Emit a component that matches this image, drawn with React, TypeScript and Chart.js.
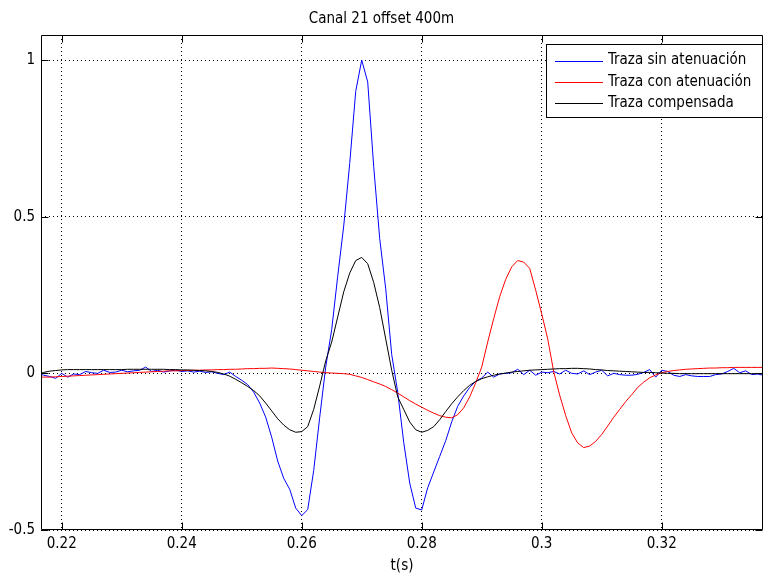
import React, { useEffect, useRef } from "react";
import { Chart, registerables } from "chart.js";

Chart.register(...registerables);

const TITLE = "Canal 21 offset 400m";
const X_LABEL = "t(s)";
const SERIES_NAMES = ["Traza sin atenuación", "Traza con atenuación", "Traza compensada"];
const SERIES_COLORS = ["#0000ff", "#ff0000", "#000000"];

const X_TICKS = [0.22, 0.24, 0.26, 0.28, 0.3, 0.32];
const Y_TICKS = [-0.5, 0, 0.5, 1];
const X_MIN = 0.21655;
const X_MAX = 0.33688;
const Y_MIN = -0.5;
const Y_MAX = 1.08;

// sample times (s)
const times = [
  0.21655, 0.217, 0.218, 0.219,
  0.22, 0.221, 0.222, 0.223, 0.224, 0.225, 0.226, 0.227, 0.228, 0.229,
  0.23, 0.231, 0.232, 0.233, 0.234, 0.235, 0.236, 0.237, 0.238, 0.239,
  0.24, 0.241, 0.242, 0.243, 0.244, 0.245, 0.246, 0.247, 0.248, 0.249,
  0.25, 0.251, 0.252, 0.253, 0.254, 0.255, 0.256, 0.257, 0.258, 0.259,
  0.26, 0.261, 0.262, 0.263, 0.264, 0.265, 0.266, 0.267, 0.268, 0.269,
  0.27, 0.271, 0.272, 0.273, 0.274, 0.275, 0.276, 0.277, 0.278, 0.279,
  0.28, 0.281, 0.282, 0.283, 0.284, 0.285, 0.286, 0.287, 0.288, 0.289,
  0.29, 0.291, 0.292, 0.293, 0.294, 0.295, 0.296, 0.297, 0.298, 0.299,
  0.3, 0.301, 0.302, 0.303, 0.304, 0.305, 0.306, 0.307, 0.308, 0.309,
  0.31, 0.311, 0.312, 0.313, 0.314, 0.315, 0.316, 0.317, 0.318, 0.319,
  0.32, 0.321, 0.322, 0.323, 0.324, 0.325, 0.326, 0.327, 0.328, 0.329,
  0.33, 0.331, 0.332, 0.333, 0.334, 0.335, 0.336,
  0.33688,
];

// Traza sin atenuación
const trazaSin = [
  -0.003, -0.006, -0.01, -0.016,
  0.0, -0.012, -0.002, -0.004, 0.006, 0.002, 0.0, 0.01, 0.003, 0.004,
  0.01, 0.005, 0.008, 0.01, 0.02, 0.006, 0.01, 0.004, 0.008, 0.01,
  0.006, 0.008, 0.004, 0.007, 0.003, 0.005, 0.0, -0.004, 0.004, -0.01,
  -0.022, -0.036, -0.06, -0.095, -0.14, -0.204, -0.28, -0.335, -0.37, -0.43,
  -0.454, -0.435, -0.31, -0.14, 0.02, 0.14, 0.31, 0.47, 0.67, 0.9,
  1.0, 0.93, 0.66, 0.43, 0.27, 0.06, -0.06, -0.22, -0.35, -0.43,
  -0.436, -0.365, -0.315, -0.265, -0.215, -0.155, -0.105, -0.072, -0.045, -0.025,
  -0.015, 0.004, -0.012, -0.002, 0.0, 0.002, 0.013, -0.004, 0.01, -0.006,
  0.004, 0.002, 0.006, -0.002, 0.01, 0.0, -0.002, 0.008, -0.004, 0.004,
  0.01, -0.008, 0.0, -0.004, -0.006, -0.006, -0.003, 0.003, 0.012, -0.012,
  0.01, 0.006, -0.006, -0.01, -0.004, -0.008, -0.01, -0.01, -0.01, -0.004,
  -0.002, 0.006, 0.016, 0.002, 0.008, -0.004, -0.002,
  -0.006,
];

// Traza con atenuación
const trazaCon = [
  -0.012, -0.012, -0.012, -0.011,
  -0.01, -0.009, -0.008, -0.007, -0.006, -0.005, -0.004, -0.003, -0.002, -0.001,
  0.0, 0.001, 0.002, 0.003, 0.004, 0.005, 0.006, 0.007, 0.008, 0.008,
  0.009, 0.009, 0.01, 0.01, 0.011, 0.011, 0.012, 0.012, 0.013, 0.013,
  0.014, 0.015, 0.015, 0.016, 0.016, 0.017, 0.016, 0.015, 0.014, 0.012,
  0.01, 0.008, 0.006, 0.004, 0.002, 0.001, 0.0, -0.001, -0.003, -0.008,
  -0.013, -0.02, -0.027, -0.034, -0.042, -0.052, -0.063, -0.075, -0.087, -0.098,
  -0.108, -0.118, -0.127, -0.135, -0.14, -0.142, -0.132, -0.11, -0.075, -0.03,
  0.02, 0.1, 0.175, 0.245, 0.3, 0.34, 0.36, 0.355, 0.335, 0.265,
  0.19, 0.11, 0.005, -0.07, -0.135, -0.19, -0.222, -0.237, -0.232, -0.217,
  -0.195, -0.168, -0.14, -0.115, -0.09, -0.068, -0.045, -0.028, -0.014, -0.005,
  0.002, 0.006, 0.009, 0.011, 0.013, 0.014, 0.015, 0.016, 0.017, 0.017,
  0.018, 0.018, 0.019, 0.019, 0.019, 0.019, 0.019,
  0.019,
];

// Traza compensada
const trazaComp = [
  0.0, 0.003, 0.007, 0.009,
  0.011, 0.012, 0.012, 0.012, 0.012, 0.012, 0.012, 0.012, 0.012, 0.012,
  0.012, 0.013, 0.013, 0.013, 0.013, 0.013, 0.013, 0.013, 0.012, 0.012,
  0.011, 0.011, 0.01, 0.009, 0.008, 0.006, 0.003, -0.002, -0.009, -0.019,
  -0.03, -0.042, -0.055, -0.072, -0.095, -0.12, -0.145, -0.165, -0.18, -0.188,
  -0.186, -0.17, -0.115, -0.04, 0.04, 0.1, 0.18, 0.26, 0.32, 0.36,
  0.37, 0.35, 0.29, 0.21, 0.11, 0.01, -0.075, -0.115, -0.155, -0.18,
  -0.188, -0.182, -0.17, -0.148, -0.122, -0.097, -0.075, -0.055, -0.038, -0.026,
  -0.017, -0.011, -0.006, -0.002, 0.001, 0.004, 0.006, 0.008, 0.01, 0.011,
  0.012, 0.013, 0.014, 0.015, 0.015, 0.016, 0.016, 0.015, 0.014, 0.012,
  0.011, 0.009, 0.008, 0.007, 0.006, 0.005, 0.004, 0.003, 0.003, 0.002,
  0.001, 0.0, 0.0, -0.001, -0.001, -0.001, -0.001, -0.001, -0.001, -0.001,
  -0.001, -0.001, -0.001, -0.001, -0.001, -0.001, -0.001,
  -0.001,
];

const FONT = "'DejaVu Sans Condensed', 'DejaVu Sans', Arial, sans-serif";
const FONT_SIZE = 15;

const toPoints = (vals: number[]) => times.map((t, i) => ({ x: t, y: vals[i] }));

const framePlugin = {
  id: "matlabFrame",
  afterDatasetsDraw(chart: any) {
    const { ctx, chartArea: a, scales } = chart;
    const L = Math.round(a.left) + 0.5;
    const R = Math.round(a.right) - 0.5;
    const T = Math.round(a.top) + 0.5;
    const B = Math.round(a.bottom) - 0.5;
    const len = 7;
    ctx.save();
    ctx.strokeStyle = "#000";
    ctx.lineWidth = 1;
    ctx.setLineDash([]);
    ctx.beginPath();
    ctx.rect(L, T, R - L, B - T);
    X_TICKS.forEach((v) => {
      const x = Math.round(scales.x.getPixelForValue(v)) + 0.5;
      ctx.moveTo(x, B);
      ctx.lineTo(x, B - len);
      ctx.moveTo(x, T);
      ctx.lineTo(x, T + len);
    });
    Y_TICKS.forEach((v) => {
      const y = Math.round(scales.y.getPixelForValue(v)) + 0.5;
      ctx.moveTo(L, y);
      ctx.lineTo(L + len, y);
      ctx.moveTo(R, y);
      ctx.lineTo(R - len, y);
    });
    ctx.stroke();
    ctx.restore();
  },
  afterDraw(chart: any) {
    const { ctx, chartArea: a } = chart;
    const bx = 546.5;
    const by = 44.5;
    const bw = Math.round(a.right) - 0.5 - bx;
    const bh = 73;
    ctx.save();
    ctx.fillStyle = "#fff";
    ctx.fillRect(bx, by, bw, bh);
    ctx.strokeStyle = "#000";
    ctx.lineWidth = 1;
    ctx.setLineDash([]);
    ctx.strokeRect(bx, by, bw, bh);
    ctx.font = `${FONT_SIZE}px ${FONT}`;
    ctx.textBaseline = "middle";
    ctx.textAlign = "left";
    SERIES_NAMES.forEach((name, i) => {
      const y = 60.5 + i * 21.3;
      const yl = Math.round(y) + 0.5;
      ctx.strokeStyle = SERIES_COLORS[i];
      ctx.lineWidth = 1;
      ctx.beginPath();
      ctx.moveTo(555, yl);
      ctx.lineTo(603, yl);
      ctx.stroke();
      ctx.fillStyle = "#000";
      ctx.fillText(name, 608, y);
    });
    ctx.restore();
  },
};

export default function App() {
  const ref = useRef<HTMLCanvasElement>(null);

  useEffect(() => {
    if (!ref.current) return;
    const tickFont = { family: FONT, size: FONT_SIZE, weight: "normal" as const };
    const chart = new Chart(ref.current, {
      type: "line",
      data: {
        datasets: [
          { label: SERIES_NAMES[0], data: toPoints(trazaSin), borderColor: SERIES_COLORS[0], order: 2 },
          { label: SERIES_NAMES[1], data: toPoints(trazaCon), borderColor: SERIES_COLORS[1], order: 1 },
          { label: SERIES_NAMES[2], data: toPoints(trazaComp), borderColor: SERIES_COLORS[2], order: 0 },
        ].map((d) => ({
          ...d,
          borderWidth: 1,
          pointRadius: 0,
          tension: 0,
          fill: false,
        })),
      },
      options: {
        responsive: false,
        animation: false,
        devicePixelRatio: 1,
        events: [],
        layout: { padding: { left: 0, right: 1, top: 0, bottom: 0 } },
        plugins: {
          legend: { display: false },
          tooltip: { enabled: false },
          title: {
            display: true,
            text: TITLE,
            color: "#000",
            font: tickFont,
            padding: { top: 10, bottom: 7 },
          },
        },
        scales: {
          x: {
            type: "linear",
            min: X_MIN,
            max: X_MAX,
            afterBuildTicks: (s: any) => {
              s.ticks = X_TICKS.map((v) => ({ value: v }));
            },
            afterFit: (s: any) => {
              s.height = 45;
            },
            grid: { color: "#000", lineWidth: 1, drawTicks: false },
            border: { display: false, dash: [1, 3] },
            ticks: {
              padding: 5,
              color: "#000",
              font: tickFont,
              maxRotation: 0,
              autoSkip: false,
              callback: (v: any) => String(v),
            },
            title: {
              display: true,
              text: X_LABEL,
              color: "#000",
              font: tickFont,
              padding: { top: 0, bottom: 0 },
            },
          },
          y: {
            type: "linear",
            min: Y_MIN,
            max: Y_MAX,
            afterBuildTicks: (s: any) => {
              s.ticks = Y_TICKS.map((v) => ({ value: v }));
            },
            afterFit: (s: any) => {
              s.width = 41;
            },
            grid: { color: "#000", lineWidth: 1, drawTicks: false },
            border: { display: false, dash: [1, 3] },
            ticks: {
              padding: 6,
              color: "#000",
              font: tickFont,
              autoSkip: false,
              callback: (v: any) => String(v),
            },
          },
        },
      },
      plugins: [framePlugin],
    } as any);
    return () => chart.destroy();
  }, []);

  return (
    <div style={{ position: "absolute", left: 0, top: 0, width: 764, height: 575, background: "#fff" }}>
      <canvas ref={ref} width={764} height={575} style={{ display: "block", width: 764, height: 575 }} />
    </div>
  );
}
